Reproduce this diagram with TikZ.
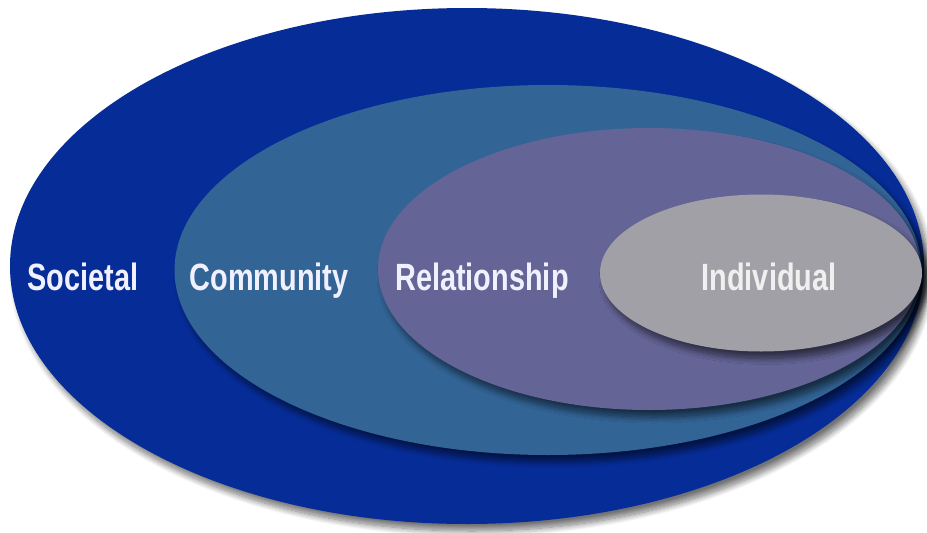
\documentclass[tikz,border=0pt]{standalone}
\usepackage{fontspec}
\newfontfamily\narrowbold[FakeStretch=0.76]{Liberation Sans Bold}
\usetikzlibrary{shapes.geometric,shadows.blur}

\definecolor{societal}{RGB}{6,44,152}
\definecolor{community}{RGB}{50,100,150}
\definecolor{relation}{RGB}{100,100,150}
\definecolor{individ}{RGB}{160,160,166}

\tikzset{
  level/.style={ellipse, inner sep=0pt, draw=none},
  shade/.style={blur shadow={shadow xshift=5pt, shadow yshift=-7pt,
      shadow blur steps=12, shadow blur radius=6pt, shadow opacity=55}},
  tag/.style={anchor=base, text=white!94!blue, font=\narrowbold\fontsize{38}{40}\selectfont}
}

\begin{document}
\begin{tikzpicture}[x=1pt,y=-1pt]
	\useasboundingbox (0,0) rectangle (927,533);
	% nested levels, outermost first
	\node[level,shade,fill=societal,minimum width=914pt,minimum height=516pt] (soc) at (467,266) {};
	\node[level,shade,fill=community,minimum width=747pt,minimum height=370pt] (com) at (548,270) {};
	\node[level,shade,fill=relation,minimum width=542pt,minimum height=282pt] (rel) at (649,269) {};
	\node[level,shade,fill=individ,minimum width=322pt,minimum height=157pt] (ind) at (761,273) {};
	% labels, all on one baseline
	\node[tag] (tsoc) at (83,290) {Societal};
	\node[tag] (tcom) at (269,290) {Community};
	\node[tag] (trel) at (482,290) {Relationship};
	\node[tag,text=white!88!gray] (tind) at (769,290) {Individual};
\end{tikzpicture}
\end{document}
